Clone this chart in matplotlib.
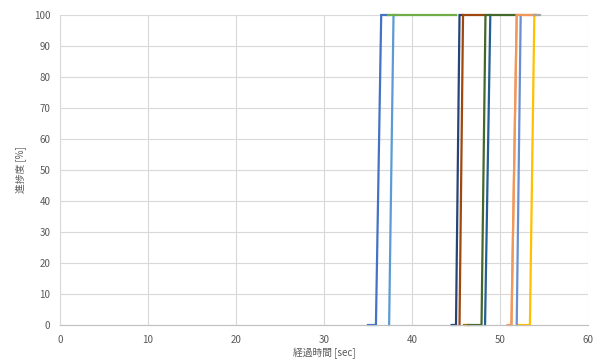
import matplotlib
matplotlib.use("Agg")
import matplotlib.pyplot as plt

plt.rcParams['font.family'] = ['Noto Sans CJK JP', 'DejaVu Sans']

# 各系列: 経過時間 [sec] と 進捗度 [%]
t_s01 = [35.0, 35.9, 36.5, 37.3]
p_s01 = [0, 0, 100, 100]
t_s02 = [51.3, 51.9, 54.1]
p_s02 = [0, 100, 100]
t_s03 = [53.9, 54.5]
p_s03 = [100, 100]
t_s04 = [52.0, 53.4, 53.9]
p_s04 = [0, 0, 100]
t_s05 = [37.4, 37.9, 38.2]
p_s05 = [0, 100, 100]
t_s06 = [37.3, 45.0]
p_s06 = [100, 100]
t_s07 = [44.5, 45.0, 45.4, 45.8]
p_s07 = [0, 0, 100, 100]
t_s08 = [45.4, 45.8, 48.2]
p_s08 = [0, 100, 100]
t_s10 = [45.9, 46.4]
p_s10 = [0, 0]
t_s11 = [48.3, 48.9]
p_s11 = [0, 100]
t_s12 = [46.4, 47.9, 48.35, 51.9]
p_s12 = [0, 0, 100, 100]
t_s13 = [51.9, 52.35]
p_s13 = [0, 100]
t_s14 = [50.85, 51.3, 51.9, 54.1]
p_s14 = [0, 0, 100, 100]

series = [
    (t_s01, p_s01, '#4472C4'),
    (t_s04, p_s04, '#FFC000'),
    (t_s05, p_s05, '#5B9BD5'),
    (t_s06, p_s06, '#70AD47'),
    (t_s07, p_s07, '#264478'),
    (t_s08, p_s08, '#9E480E'),
    (t_s10, p_s10, '#997300'),
    (t_s11, p_s11, '#255E91'),
    (t_s12, p_s12, '#43682B'),
    (t_s13, p_s13, '#698ED0'),
    (t_s02, p_s02, '#F4A46E'),
    (t_s14, p_s14, '#F1975A'),
    (t_s03, p_s03, '#A5A5A5'),
]

x_ticks = [0, 10, 20, 30, 40, 50, 60]
y_ticks = [0, 10, 20, 30, 40, 50, 60, 70, 80, 90, 100]

fig = plt.figure(figsize=(5.96, 3.63), dpi=100)
ax = fig.add_axes([60 / 596, 38 / 363, 528 / 596, 310 / 363])

for t, p, c in series:
    ax.plot(t, p, color=c, linewidth=1.6, solid_joinstyle='miter', clip_on=False)

ax.set_xlim(0, 60)
ax.set_ylim(0, 100)
ax.set_xticks(x_ticks)
ax.set_yticks(y_ticks)
ax.grid(True, color='#D9D9D9', linewidth=0.8)
ax.set_axisbelow(True)
ax.tick_params(length=0, labelsize=7, labelcolor='#595959', pad=7)
for side in ['top', 'right']:
    ax.spines[side].set_visible(False)
ax.spines['left'].set_color('#D9D9D9')
ax.spines['bottom'].set_color('#BFBFBF')

ax.set_xlabel('経過時間 [sec]', fontsize=7, color='#595959', labelpad=2)
ax.set_ylabel('進捗度 [%]', fontsize=7, color='#595959', labelpad=5)

fig.savefig('out.png', dpi=100, facecolor='white')
